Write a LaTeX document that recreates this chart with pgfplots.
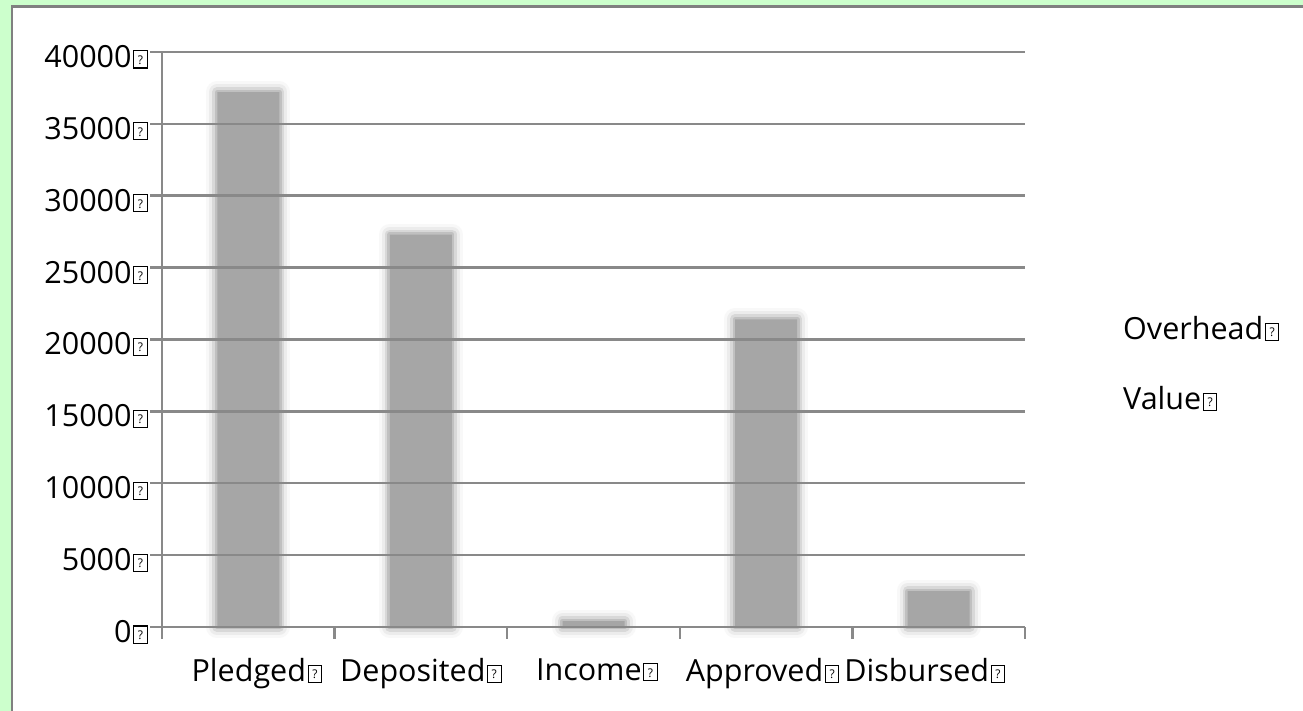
\documentclass[border=0pt]{standalone}
\usepackage{pgfplots}
\pgfplotsset{compat=1.18}
\usepackage{fontspec}
\setmainfont{Open Sans}
\definecolor{bggreen}{RGB}{204,255,204}
\definecolor{framegray}{RGB}{128,128,128}
\definecolor{gridgray}{RGB}{137,137,137}
\definecolor{barcore}{RGB}{166,166,166}
\definecolor{glowA}{RGB}{248,248,248}
\definecolor{glowB}{RGB}{236,236,236}
\definecolor{glowC}{RGB}{216,216,216}
\definecolor{glowD}{RGB}{192,192,192}
\newcommand{\qb}{\kern1.5pt{\setlength{\fboxsep}{0pt}\setlength{\fboxrule}{1.1pt}\fbox{\makebox[12.5pt]{\rule{0pt}{16pt}\fontsize{12}{12}\selectfont\raisebox{3pt}{?}}}}}
\begin{document}
\begin{tikzpicture}[x=1pt,y=1pt]
\useasboundingbox (0,0) rectangle (1303,711);
\fill[bggreen] (0,0) rectangle (1303,711);
\fill[white] (12,-5) rectangle (1310,704.5);
\draw[framegray, line width=2.5pt] (12,-5) -- (12,704.5) -- (1310,704.5);
\begin{axis}[
  at={(162pt,84pt)}, anchor=south west,
  scale only axis, width=863pt, height=575pt,
  xmin=-0.5, xmax=4.5, ymin=0, ymax=40000,
  axis lines=left,
  axis line style={-, draw=gridgray, line width=2.5pt},
  axis on top,
  ymajorgrids,
  grid style={draw=gridgray, line width=2.5pt},
  tick style={draw=gridgray, line width=2.5pt},
  major tick length=12pt,
  tick align=outside,
  ytick={0,5000,10000,15000,20000,25000,30000,35000,40000},
  yticklabels={0\qb,5000\qb,10000\qb,15000\qb,20000\qb,25000\qb,30000\qb,35000\qb,40000\qb},
  yticklabel style={inner sep=2pt, yshift=-5pt},
  xtick={-0.5,0.5,1.5,2.5,3.5,4.5},
  xticklabels={},
  extra x ticks={0.05,1.0,2.02,2.98,3.92},
  extra x tick labels={Pledged\qb,Deposited\qb,Income\qb,Approved\qb,Disbursed\qb},
  extra x tick style={grid=none, major tick length=0pt, tick style={draw=none}, xticklabel style={yshift=-28pt}},
  tick label style={font=\fontsize{30.5}{37}\selectfont, text=black},
  scaled y ticks=false,
  clip=false,
]
\addplot[ybar, bar width=62pt, fill=barcore, draw=none,
  preaction={draw=glowA, line width=22pt, line join=round},
  preaction={draw=glowB, line width=16pt, line join=round},
  preaction={draw=glowC, line width=10pt, line join=round},
  preaction={draw=glowD, line width=5pt, line join=round}]
  coordinates {(0,37200) (1,27300) (2,400) (3,21400) (4,2500)};
\end{axis}
\node[anchor=base west, inner sep=0pt, font=\fontsize{30.5}{37}\selectfont] at (1123,371) {Overhead\qb};
\node[anchor=base west, inner sep=0pt, font=\fontsize{30.5}{37}\selectfont] at (1123,301) {Value\qb};
\end{tikzpicture}
\end{document}
